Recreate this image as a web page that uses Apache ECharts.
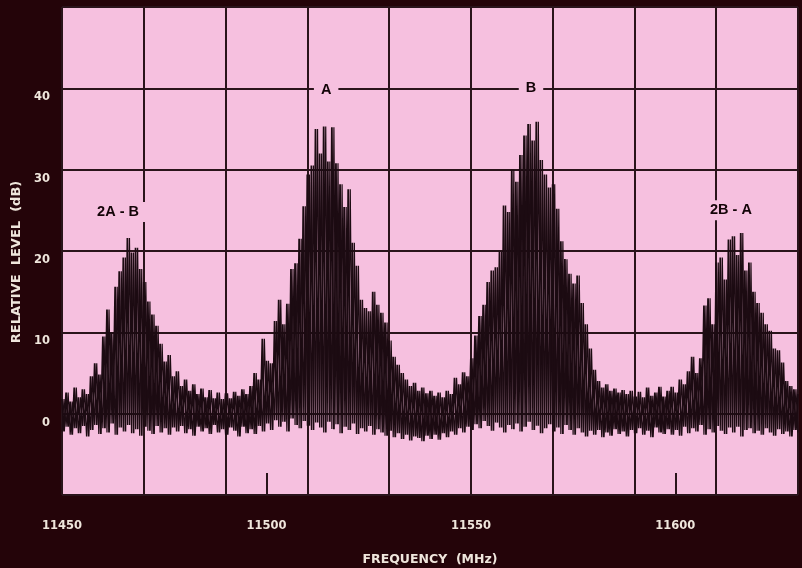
<!DOCTYPE html>
<html>
<head>
<meta charset="utf-8">
<script src="https://cdn.jsdelivr.net/npm/echarts@6/dist/echarts.min.js"></script>
<style>
html,body{margin:0;padding:0;background:#240409;}
#chart{width:802px;height:568px;}
</style>
</head>
<body>
<div id="chart"></div>
<script>
// Frequency grid (MHz): one sample per MHz from 11450 to 11630
const freqStart = 11450;
const freqStep = 1;
// Upper envelope of the trace (dB), one value per MHz
const levelHigh = [
  1.8, 2.6, 1.5, 3.2, 2.0, 3.0, 2.4, 4.6, 6.2, 4.8,
  9.5, 12.8, 10.0, 15.6, 17.5, 19.2, 21.6, 19.8, 20.4, 17.8,
  16.2, 13.8, 12.2, 10.8, 8.6, 6.4, 7.2, 4.6, 5.2, 3.4,
  4.2, 2.8, 3.6, 2.4, 3.1, 2.0, 2.9, 1.9, 2.6, 1.8,
  2.5, 1.9, 2.7, 2.2, 3.0, 2.4, 3.4, 5.0, 4.2, 9.2,
  6.5, 6.2, 11.4, 14.0, 11.0, 13.5, 17.8, 18.5, 21.5, 25.5,
  29.4, 30.5, 35.0, 32.0, 35.3, 31.0, 35.2, 30.8, 28.2, 25.4,
  27.6, 21.0, 18.2, 14.0, 13.0, 12.6, 15.0, 13.4, 12.4, 11.2,
  9.0, 7.0, 6.0, 5.0, 4.2, 3.4, 3.8, 2.8, 3.2, 2.5,
  2.8, 2.2, 2.6, 2.0, 2.8, 2.4, 4.4, 3.6, 5.1, 4.6,
  6.8, 9.6, 12.0, 13.4, 16.2, 17.6, 18.0, 19.9, 25.6, 24.8,
  30.0, 28.5, 31.8, 34.2, 35.6, 33.6, 35.9, 31.2, 29.4, 27.8,
  28.2, 25.2, 21.2, 19.0, 17.2, 16.0, 17.0, 13.6, 11.0, 8.0,
  5.4, 4.0, 3.2, 3.6, 2.8, 3.1, 2.6, 2.9, 2.4, 2.8,
  2.1, 2.7, 2.0, 3.2, 2.2, 2.6, 3.3, 2.1, 2.8, 3.3,
  2.6, 4.2, 3.6, 5.2, 7.0, 5.0, 6.8, 13.3, 14.2, 11.0,
  18.6, 19.2, 16.5, 21.4, 21.8, 19.5, 22.2, 17.6, 18.6, 15.0,
  13.6, 12.4, 11.0, 10.2, 8.0, 7.8, 6.3, 4.0, 3.4, 3.0,
  2.4
];
// Lower envelope of the trace (dB), one value per MHz (sampled half a MHz later)
const levelLow = [
  -2.2, -1.6, -2.6, -1.8, -2.4, -1.5, -2.8, -2.0, -1.4, -2.5,
  -1.8, -2.3, -1.2, -2.6, -1.7, -2.2, -1.4, -2.4, -1.9, -2.7,
  -1.6, -2.1, -2.5, -1.5, -2.3, -1.8, -2.6, -1.7, -2.2, -1.5,
  -2.4, -1.9, -2.7, -1.6, -2.2, -1.8, -2.5, -1.4, -2.3, -1.9,
  -2.6, -1.7, -2.1, -2.8, -1.6, -2.4, -1.9, -2.5, -1.5, -2.2,
  -1.2, -2.0, -0.8, -1.6, -1.0, -2.2, -0.6, -1.4, -1.8, -0.9,
  -1.5, -2.0, -1.1, -1.7, -2.3, -1.0, -1.9, -1.3, -2.4, -1.6,
  -2.0, -1.2, -2.5, -1.8, -2.2, -1.5, -2.6, -1.9, -2.3, -2.7,
  -2.1, -2.9, -2.4, -3.1, -2.6, -3.3, -2.8, -3.0, -3.4, -2.7,
  -3.1, -2.6, -3.2, -2.4, -2.9, -2.2, -2.6, -1.8, -2.3, -1.6,
  -2.0, -1.3, -1.8, -0.9, -1.5, -2.1, -1.1, -1.7, -2.3, -1.4,
  -1.9, -1.2, -2.2, -1.6, -1.0, -2.0, -1.5, -2.4, -1.8, -1.3,
  -2.2, -1.7, -2.5, -1.4, -2.0, -2.6, -1.8, -2.3, -2.8, -2.1,
  -2.6, -2.0, -2.9, -2.3, -2.7, -1.9, -2.5, -2.2, -2.8, -2.0,
  -2.4, -1.8, -2.6, -2.1, -2.9, -1.7, -2.3, -2.5, -1.9, -2.6,
  -2.0, -2.7, -1.6, -2.4, -1.8, -2.2, -1.4, -2.6, -1.9, -2.3,
  -1.5, -2.1, -2.5, -1.7, -2.3, -1.6, -2.8, -2.0, -1.8, -2.4,
  -2.1, -2.6, -1.8, -2.3, -2.7, -1.9, -2.5, -2.2, -2.8, -2.0,
  -2.3
];
// Axis tick labels
const xTickLabels = [11450, 11500, 11550, 11600];
const yTickLabels = [0, 10, 20, 30, 40];
// Signal annotations
const annoText = ['2A - B', 'A', 'B', '2B - A'];
const annoFreq = [11463.7, 11514.6, 11564.7, 11613.6];
const annoLevel = [24.8, 39.8, 40.0, 25.0];

const PINK = '#f6c0df';
const INK = '#1c0b12';
const GRIDC = '#2a141b';
const LABELC = '#efe6dc';

// Zig-zag trace: high value at f, low value half a step later
const trace = [];
// Second pass crossing the first: low at f, high half a step later
const traceCross = [];
for (let i = 0; i < levelHigh.length; i++) {
  const f = freqStart + i * freqStep;
  trace.push([f, levelHigh[i]]);
  traceCross.push([f, levelLow[i]]);
  if (i < levelHigh.length - 1) {
    trace.push([f + freqStep / 2, levelLow[i]]);
    traceCross.push([f + freqStep / 2, levelHigh[i]]);
  }
}

const chart = echarts.init(document.getElementById('chart'), null, {renderer: 'canvas'});
chart.setOption({
  backgroundColor: '#240409',
  animation: false,
  grid: {left: 62, right: 4, top: 7, bottom: 73, show: true, backgroundColor: PINK, borderWidth: 0,
         containLabel: false, outerBoundsMode: 'none'},
  xAxis: [{
    type: 'value', min: 11450, max: 11630, interval: 20,
    axisLine: {show: false}, axisTick: {show: false}, axisLabel: {show: false},
    splitLine: {show: true, lineStyle: {color: GRIDC, width: 2}}
  }, {
    type: 'value', min: 11450, max: 11630, interval: 50, position: 'bottom',
    axisLine: {show: false}, splitLine: {show: false},
    axisTick: {show: true, inside: true, length: 22, lineStyle: {color: GRIDC, width: 2}},
    axisLabel: {
      show: true, margin: 25, color: LABELC, fontFamily: 'DejaVu Sans', fontWeight: 'bold', fontSize: 11.5,
      formatter: v => xTickLabels.indexOf(v) >= 0 ? String(v) : ''
    },
    name: 'FREQUENCY  (MHz)', nameLocation: 'middle', nameGap: 58,
    nameTextStyle: {color: LABELC, fontFamily: 'DejaVu Sans', fontWeight: 'bold', fontSize: 12.5}
  }],
  yAxis: {
    type: 'value', min: -10, max: 50, interval: 10,
    axisLine: {show: false}, axisTick: {show: false},
    splitLine: {show: true, lineStyle: {color: GRIDC, width: 2}},
    axisLabel: {
      margin: 12, color: LABELC, fontFamily: 'DejaVu Sans', fontWeight: 'bold', fontSize: 11.5,
      verticalAlign: 'top', lineHeight: 18,
      formatter: v => yTickLabels.indexOf(v) >= 0 ? String(v) : ''
    },
    name: 'RELATIVE  LEVEL  (dB)', nameLocation: 'middle', nameGap: 36,
    nameTextStyle: {color: LABELC, fontFamily: 'DejaVu Sans', fontWeight: 'bold', fontSize: 13, padding: [0, 22, 0, 0]}
  },
  series: [{
    type: 'line', xAxisIndex: 0, data: trace, showSymbol: false, symbol: 'none',
    lineStyle: {color: INK, width: 1.8}, z: 3, silent: true,
    markPoint: {
      symbol: 'circle', symbolSize: 0, silent: true,
      label: {
        show: true, position: 'inside', color: '#140408', fontFamily: 'Liberation Sans', fontWeight: 'bold', fontSize: 14.5,
        backgroundColor: PINK, padding: [3, 7, 2, 7],
        formatter: p => p.name
      },
      data: annoText.map((t, i) => ({name: t, coord: [annoFreq[i], annoLevel[i]]}))
    }
  }, {
    type: 'line', xAxisIndex: 0, data: traceCross, showSymbol: false, symbol: 'none',
    lineStyle: {color: INK, width: 1.2}, z: 3, silent: true
  }]
});
</script>
</body>
</html>
